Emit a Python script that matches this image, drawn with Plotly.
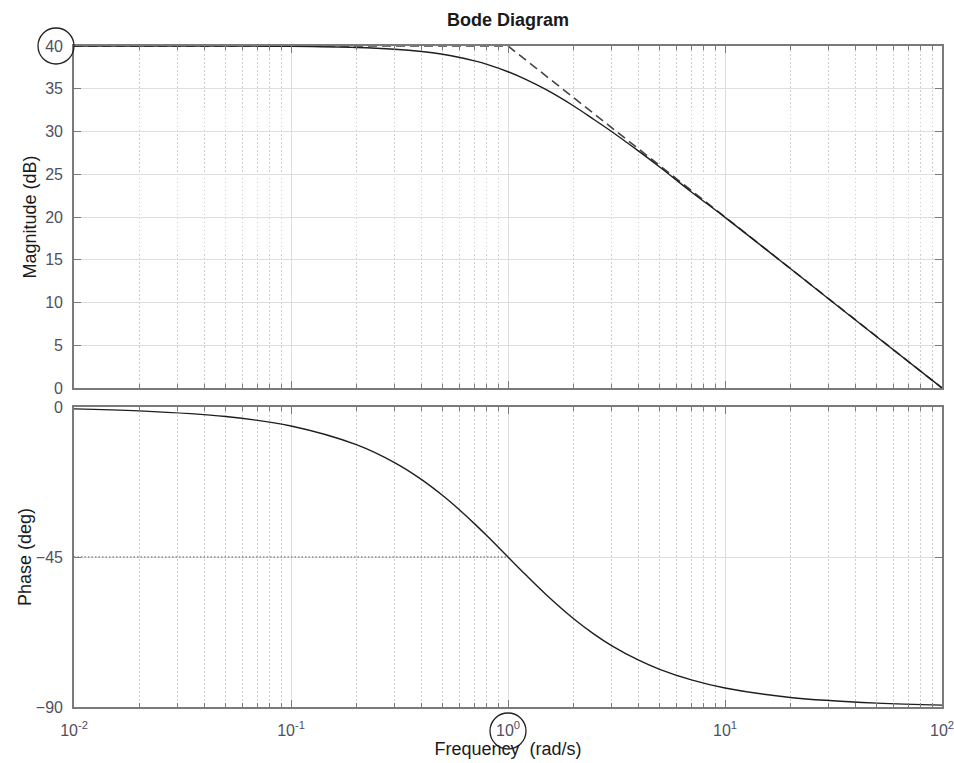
import plotly.graph_objects as go
import math

# ---- data ----
freq = [0.01, 0.02, 0.05, 0.1, 0.2, 0.3, 0.4, 0.5, 0.6, 0.7, 0.8, 1.0,
        1.2, 1.5, 2.0, 2.5, 3.0, 4.0, 5.0, 7.0, 10.0, 20.0, 50.0, 100.0]
mag_db = [40.0, 40.0, 39.99, 39.96, 39.83, 39.62, 39.35, 39.03, 38.66, 38.26, 37.85, 36.99,
          36.13, 34.89, 33.01, 31.37, 30.0, 27.70, 25.85, 22.93, 19.96, 13.97, 5.99, 0.0]
phase_deg = [-0.57, -1.15, -2.86, -5.71, -11.31, -16.70, -21.80, -26.57, -30.96, -34.99, -38.66, -45.0,
             -50.19, -56.31, -63.43, -68.20, -71.57, -75.96, -78.69, -81.87, -84.29, -87.14, -88.85, -89.43]

asym_freq = [0.01, 1.0, 100.0]
asym_db = [40.0, 40.0, 0.0]

corner_freq = 1.0
corner_phase = -45.0
phase_ref_freq = [0.01, corner_freq]
phase_ref_deg = [corner_phase, corner_phase]

x_tickvals = [0.01, 0.1, 1, 10, 100]
x_ticktext = ["10<sup>-2</sup>", "10<sup>-1</sup>", "10<sup>0</sup>", "10<sup>1</sup>", "10<sup>2</sup>"]
x_minor = [m * 10 ** e for e in range(-2, 2) for m in range(2, 10)]
mag_ticks = [0, 5, 10, 15, 20, 25, 30, 35, 40]
phase_ticks = [-90, -45, 0]

# ---- styling ----
W, H = 954, 763
ML, MR, MT, MB = 74, 12, 46, 56
ph = H - MT - MB
top_dom = [(707 - 388) / ph, 1.0]
bot_dom = [0.0, 300 / ph]

FONT = "Liberation Sans, Arial, sans-serif"
AXC = "#7a7a7a"
GRID = "#dedede"
MINGRID = "#cdcdcd"
TICKFONT = dict(family=FONT, size=16, color="#505062")
LABELFONT = dict(family=FONT, size=18, color="#1a1a1a")

fig = go.Figure()
fig.add_trace(go.Scatter(x=asym_freq, y=asym_db, mode="lines",
                         line=dict(color="#444444", width=1.6, dash="9px,5px"),
                         xaxis="x", yaxis="y", showlegend=False))
fig.add_trace(go.Scatter(x=freq, y=mag_db, mode="lines",
                         line=dict(color="#1e1e1e", width=1.4, shape="spline", smoothing=1.0),
                         xaxis="x", yaxis="y", showlegend=False))
fig.add_trace(go.Scatter(x=phase_ref_freq, y=phase_ref_deg, mode="lines",
                         line=dict(color="#8a8a8a", width=1.5, dash="1.5px,2px"),
                         xaxis="x2", yaxis="y2", showlegend=False))
fig.add_trace(go.Scatter(x=freq, y=phase_deg, mode="lines",
                         line=dict(color="#1e1e1e", width=1.4, shape="spline", smoothing=1.0),
                         xaxis="x2", yaxis="y2", showlegend=False))

def xaxis_cfg(show_labels, anchor):
    return dict(type="log", range=[-2, 2], domain=[0, 1], anchor=anchor, automargin=False,
                tickmode="array", tickvals=x_tickvals, ticktext=x_ticktext,
                showticklabels=show_labels, ticks="inside", ticklen=7, tickwidth=1.2,
                tickcolor=AXC, showline=True, linecolor=AXC, linewidth=1.6, mirror="ticks",
                showgrid=True, gridcolor=GRID, gridwidth=1, zeroline=False,
                tickfont=TICKFONT, ticklabelstandoff=8, ticklabeloverflow="allow",
                minor=dict(tickmode="array", tickvals=x_minor, ticks="inside", ticklen=4,
                           tickcolor=AXC, tickwidth=1, showgrid=True, gridcolor=MINGRID,
                           griddash="1.5px,2.5px", gridwidth=1))

def yaxis_cfg(dom, rng, vals, title, anchor, standoff):
    return dict(domain=dom, range=rng, anchor=anchor, automargin=False,
                tickmode="array", tickvals=vals,
                ticks="inside", ticklen=7, tickwidth=1.2, tickcolor=AXC,
                showline=True, linecolor=AXC, linewidth=1.6, mirror="ticks",
                showgrid=True, gridcolor=GRID, gridwidth=1, zeroline=False,
                tickfont=TICKFONT, ticklabelstandoff=6,
                title=dict(text=title, font=LABELFONT, standoff=standoff))

xa_top = xaxis_cfg(False, "y")
xa_top["matches"] = "x2"
xa_bot = xaxis_cfg(True, "y2")
xa_bot["title"] = dict(text="Frequency\u00a0 (rad/s)", font=LABELFONT, standoff=4)

fig.update_layout(
    width=W, height=H,
    margin=dict(l=ML, r=MR, t=MT, b=MB),
    paper_bgcolor="white", plot_bgcolor="white",
    title=dict(text="<b>Bode Diagram</b>", x=(ML + (W - ML - MR) / 2) / W, xanchor="center",
               y=1 - 20 / H, yanchor="middle", font=dict(family=FONT, size=18, color="#1a1a1a")),
    xaxis=xa_top, xaxis2=xa_bot,
    yaxis=yaxis_cfg(top_dom, [0, 40], mag_ticks, "Magnitude (dB)", "x", 4),
    yaxis2=yaxis_cfg(bot_dom, [-90, 0], phase_ticks, "Phase (deg)", "x2", 0),
    showlegend=False,
)

# vertical marker at the corner frequency spanning both panels
fig.add_shape(type="line", xref="x2", yref="paper",
              x0=math.log10(corner_freq), x1=math.log10(corner_freq), y0=0, y1=1,
              line=dict(color="#111", width=1.6, dash="2px,2px"), layer="above")

# circles highlighting the 40 dB label and the 10^0 label
fig.add_shape(type="circle", xref="paper", yref="paper", xsizemode="pixel", ysizemode="pixel",
              xanchor=0, yanchor=1, x0=-36, x1=0, y0=-18, y1=18,
              line=dict(color="#222", width=1.3))
fig.add_shape(type="circle", xref="paper", yref="paper", xsizemode="pixel", ysizemode="pixel",
              xanchor=0.5, yanchor=0, x0=-18, x1=18, y0=-42, y1=-6,
              line=dict(color="#222", width=1.3))

fig.write_html("out.html", config={"displayModeBar": False},
               post_script="document.body.style.margin='0';document.body.style.overflow='hidden';")
